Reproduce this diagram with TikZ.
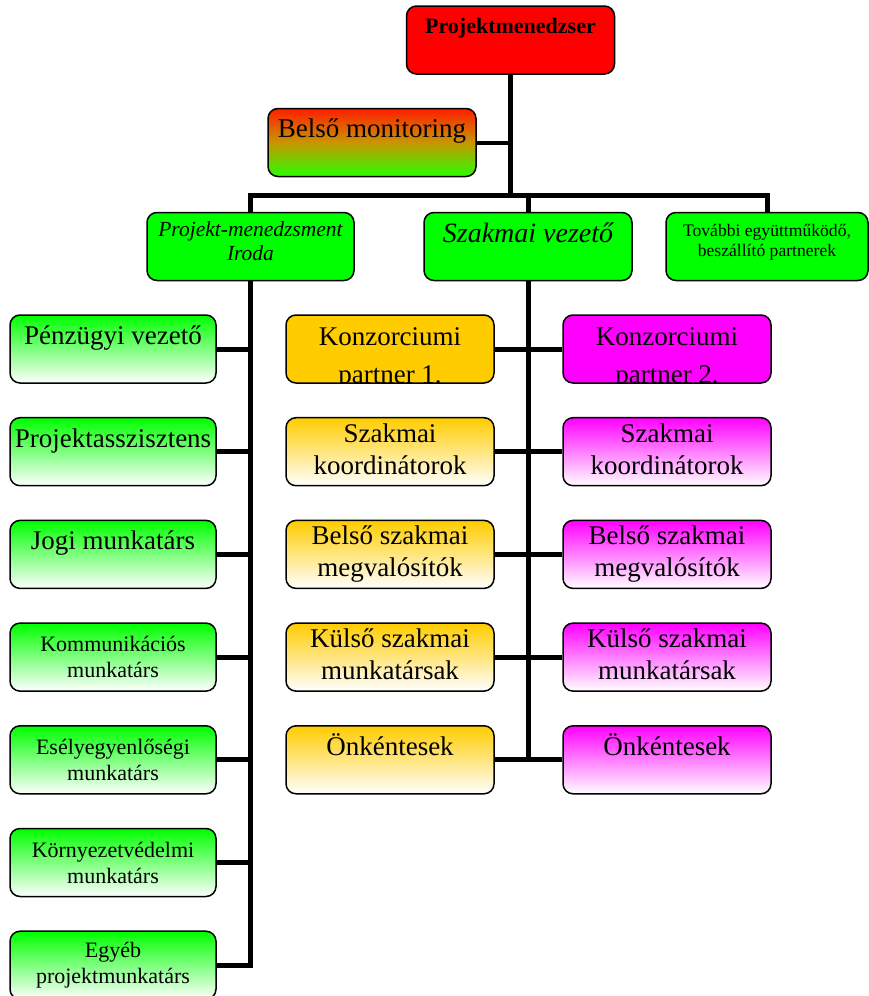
\documentclass[tikz,border=0pt]{standalone}
\usepackage{fontspec}
\setmainfont{Liberation Serif}
\usepackage{tikz}
\definecolor{boxred}{RGB}{255, 0, 0}
\definecolor{boxgreen}{RGB}{0, 255, 0}
\definecolor{boxgold}{RGB}{255, 204, 0}
\definecolor{boxpink}{RGB}{255, 0, 255}
\definecolor{bmtop}{RGB}{255, 30, 0}
\definecolor{bmmid}{RGB}{200, 150, 0}
\definecolor{bmbot}{RGB}{40, 255, 0}
\newcommand{\setfs}[2]{\fontsize{#1}{#2}\selectfont}
\newcommand{\lift}[1]{\rule[-#1pt]{0pt}{0pt}}

\begin{document}
\begin{tikzpicture}[x=1pt, y=-1pt,
  box/.style={draw, line width=1.5pt, rounded corners=10pt, minimum width=208pt,
    minimum height=68pt, inner sep=0pt, align=center},
  oneline/.style={text height=18pt, text depth=27pt},
  link/.style={line width=5pt}]
  \useasboundingbox (0, 0) rectangle (869, 996);

  % top of the chart
  \node[box, fill=boxred, font=\bfseries\setfs{22}{26}, text height=16pt, text depth=30pt]
    (pm) at (510.5, 40) {Projektmenedzser};
  \node[box, top color=bmtop, bottom color=bmbot, middle color=bmmid, oneline,
    font=\setfs{27}{32}, text depth=29pt] (bm) at (372, 142.5) {Belső monitoring};

  \node[box, fill=boxgreen, minimum width=207pt, font=\itshape\setfs{21.5}{24}]
    (pmi) at (250.5, 246.5) {Projekt-menedzsment\\Iroda\lift{10}};
  \node[box, fill=boxgreen, font=\itshape\setfs{28}{32}, text height=19pt, text depth=28pt]
    (szv) at (528, 246.5) {Szakmai vezető};
  \node[box, fill=boxgreen, minimum width=202pt, font=\setfs{17.6}{20}]
    (tov) at (767, 246.5) {További együttműködő,\\beszállító partnerek\lift{12}};

  \coordinate (bar) at (510.5, 195);
  \draw[link] (pm) -- (bar);
  \draw[line width=4pt] (bm.east) -- (bm.east -| pm.south);
  \draw[link] (pmi.north) |- (bar);
  \draw[link] (tov.north) |- (bar);
  \draw[link] (szv.north) |- (bar);

  % left column
  \foreach [count=\n] \txt in {Pénzügyi vezető, Projektasszisztens, Jogi munkatárs} {
    \node[box, top color=boxgreen, bottom color=white, minimum width=206pt, oneline,
      font=\setfs{27}{32}] (l\n) at (113, {349 + 102.7 * (\n - 1)}) {\txt};
  }
  \foreach [count=\n from 4] \txt in {Kommunikációs\\munkatárs, Esélyegyenlőségi\\munkatárs,
      Környezetvédelmi\\munkatárs, Egyéb\\projektmunkatárs} {
    \node[box, top color=boxgreen, bottom color=white, minimum width=206pt,
      font=\setfs{22}{26}] (l\n) at (113, {349 + 102.7 * (\n - 1)}) {\txt};
  }
  \draw[link] (pmi.south) |- (l7.east);
  \foreach \n in {1, ..., 6} {
    \draw[link] (l\n.east) -- (l\n.east -| pmi.south);
  }

  % partners
  \node[box, fill=boxgold, path picture={
      \node[align=center, font=\setfs{27}{38}] (o1t)
        at ([yshift=-9pt]path picture bounding box.center) {Konzorciumi\\partner 1.};}]
    (o1) at (390, 349) {};
  \node[box, fill=boxpink, path picture={
      \node[align=center, font=\setfs{27}{38}] (m1t)
        at ([yshift=-9pt]path picture bounding box.center) {Konzorciumi\\partner 2.};}]
    (m1) at (667, 349) {};
  \foreach [count=\n from 2] \txt in {Szakmai\\koordinátorok, Belső szakmai\\megvalósítók,
      Külső szakmai\\munkatársak} {
    \node[box, top color=boxgold, bottom color=white, font=\setfs{27}{32}]
      (o\n) at (390, {349 + 102.7 * (\n - 1)}) {\txt\lift{6}};
    \node[box, top color=boxpink, bottom color=white, font=\setfs{27}{32}]
      (m\n) at (667, {349 + 102.7 * (\n - 1)}) {\txt\lift{6}};
  }
  \node[box, top color=boxgold, bottom color=white, oneline, font=\setfs{27}{32}]
    (o5) at (390, 759.8) {Önkéntesek};
  \node[box, top color=boxpink, bottom color=white, oneline, font=\setfs{27}{32}]
    (m5) at (667, 759.8) {Önkéntesek};

  \draw[link] (szv.south) -- (szv.south |- o5.east);
  \foreach \n in {1, ..., 5} {
    \draw[link] (o\n.east) -- (m\n.west);
  }
\end{tikzpicture}
\end{document}
